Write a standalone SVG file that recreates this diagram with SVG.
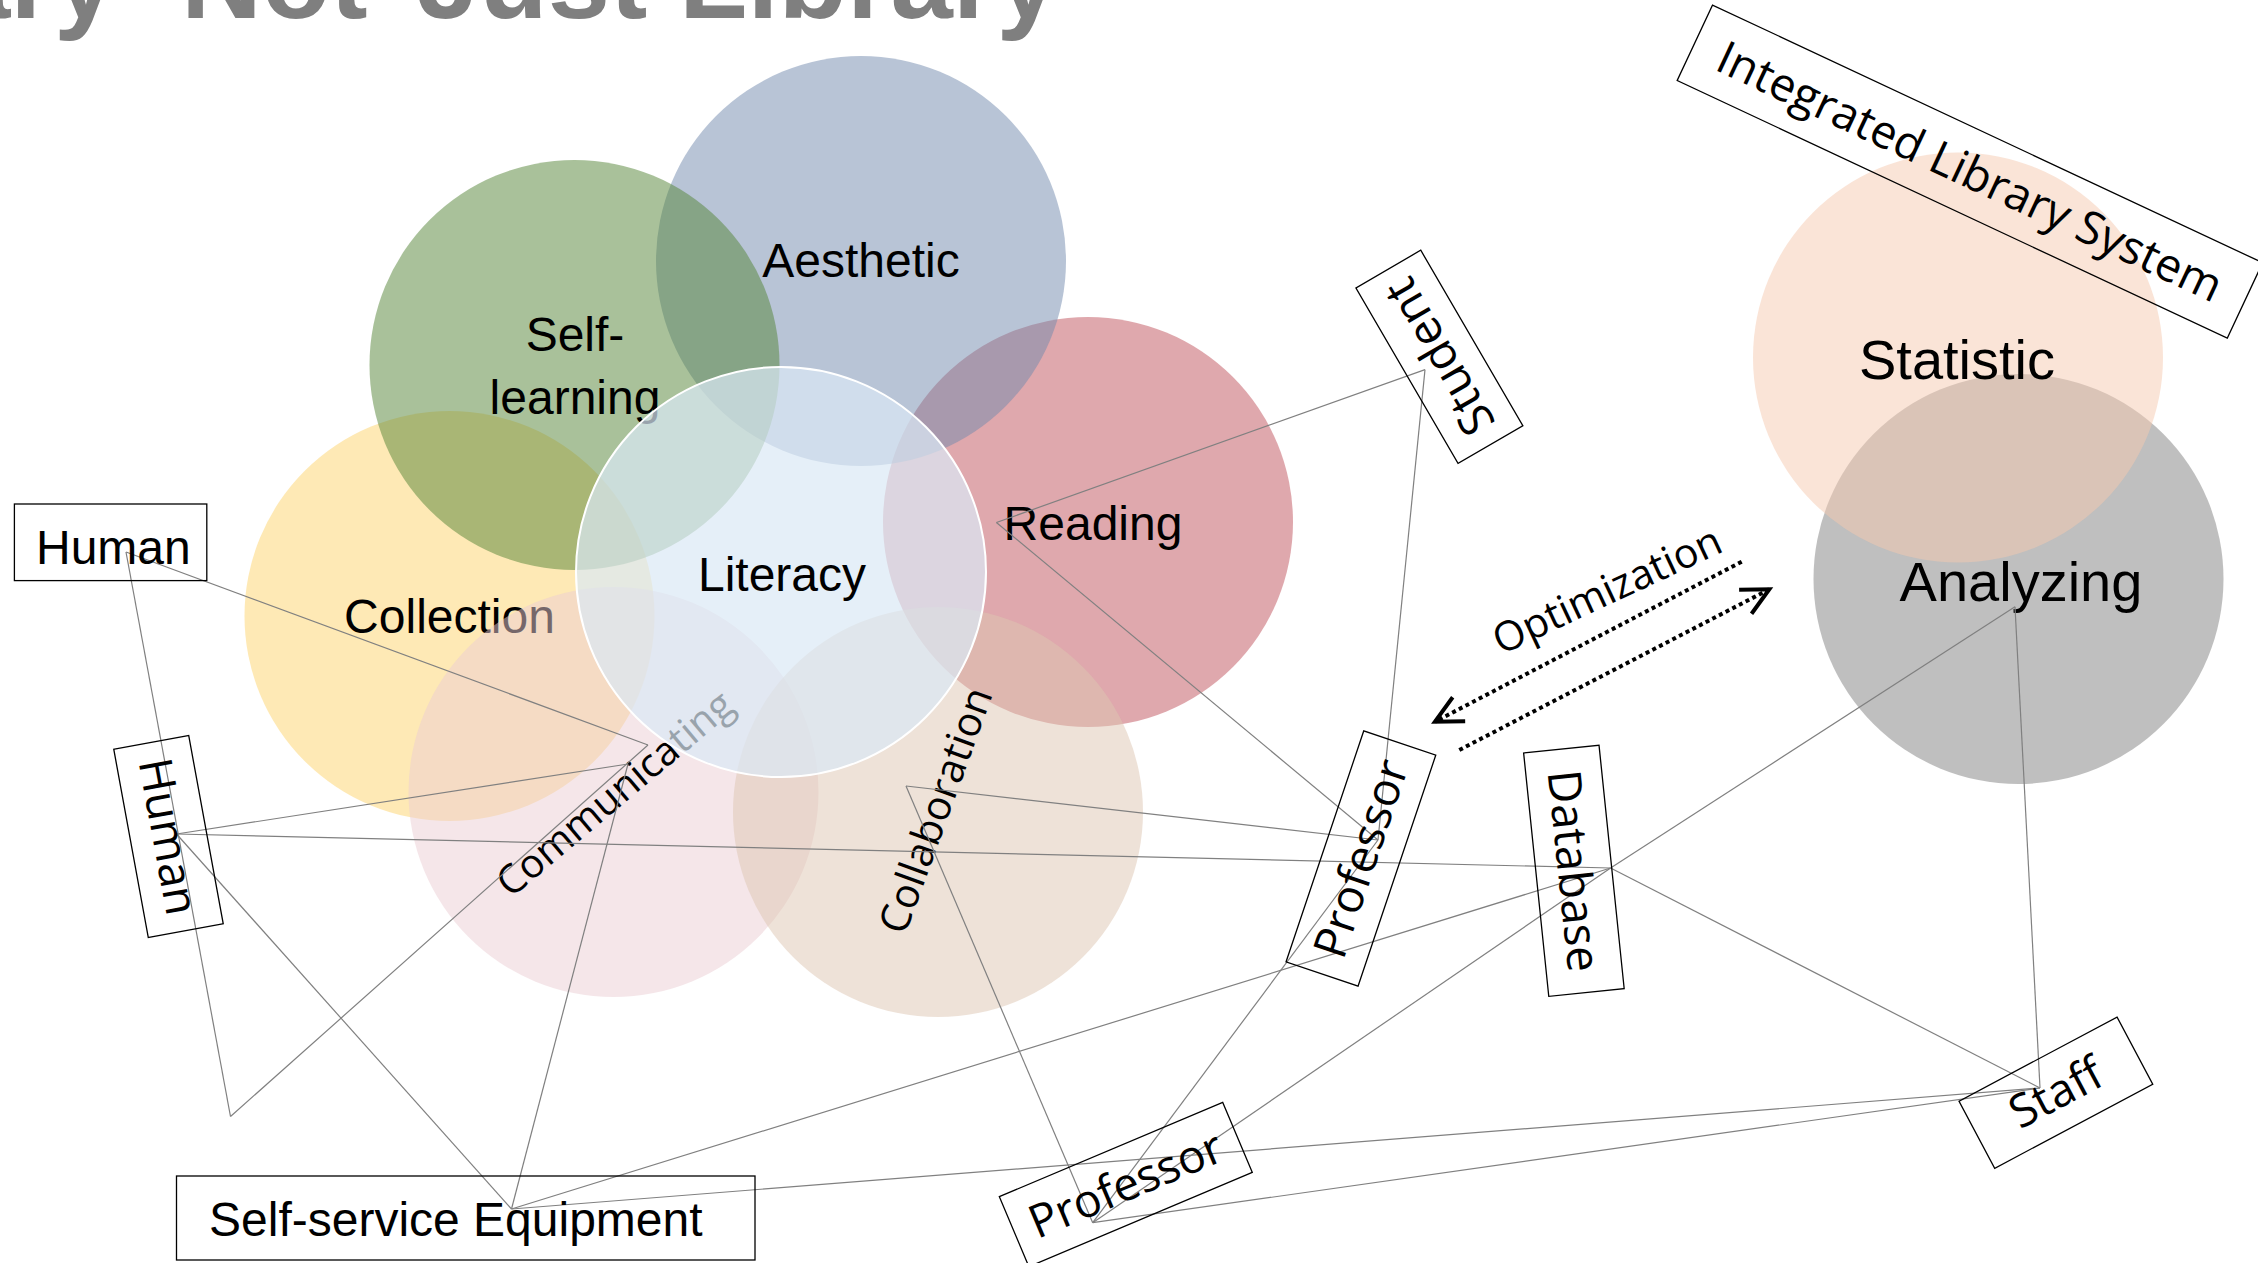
<svg xmlns="http://www.w3.org/2000/svg" width="2258" height="1263" viewBox="0 0 2258 1263">
<defs>
<style>
.lbl{font-family:"Liberation Sans",Arial,sans-serif;font-size:48px;fill:#000}
.big{font-size:56px}
.rl{font-family:"Open Sans","DejaVu Sans",sans-serif;font-size:46px;fill:#000}
.rc{font-family:"Open Sans","DejaVu Sans",sans-serif;font-size:40px;fill:#000}
.box{fill:none;stroke:#000;stroke-width:1.3}
.con line{stroke:#808080;stroke-width:1.2}
.dot{fill:none;stroke:#000;stroke-width:4;stroke-dasharray:4 3.5}
.title{font-family:"Liberation Sans",Arial,sans-serif;font-weight:bold;font-size:112px;fill:#7f7f7f}
.c{fill-opacity:0.5}
</style>
<marker id="open" markerUnits="userSpaceOnUse" markerWidth="44" markerHeight="44" viewBox="-36 -22 44 44" refX="0" refY="0" orient="auto" overflow="visible">
<path d="M-27,-13.5 L0,0 L-27,13.5" fill="none" stroke="#000" stroke-width="4"/>
</marker>
</defs>
<rect width="2258" height="1263" fill="#fff"/>
<g id="title">
<text class="title" y="18"><tspan x="-52">ary</tspan> <tspan x="181">Not</tspan> <tspan x="417">Just</tspan> <tspan x="679">Library</tspan></text>
</g>
<g id="reading">
<circle class="c" cx="1088" cy="522" r="205" fill="#BF515B"/>
<text class="lbl" x="1093" y="540" text-anchor="middle">Reading</text>
</g>
<g id="aesthetic">
<circle class="c" cx="861" cy="261" r="205" fill="#7189AD"/>
<text class="lbl" x="861" y="277" text-anchor="middle">Aesthetic</text>
</g>
<g id="collection">
<circle class="c" cx="449.5" cy="616" r="205" fill="#FDD36B"/>
<text class="lbl" x="449.5" y="633" text-anchor="middle">Collection</text>
</g>
<g id="self-learning">
<circle class="c" cx="574.5" cy="365" r="205" fill="#538335"/>
<text class="lbl" text-anchor="middle"><tspan x="575" y="351">Self-</tspan><tspan x="575" y="414">learning</tspan></text>
</g>
<g id="communicating">
<circle class="c" cx="613.5" cy="792" r="205" fill="#EBCDD3"/>
<text class="rc" transform="translate(623.5,804) rotate(-40)" text-anchor="middle">Communicating</text>
</g>
<g id="collaboration">
<circle class="c" cx="938" cy="812" r="205" fill="#DDC5B1"/>
<text class="rc" style="font-size:41px" transform="translate(949,815) rotate(-70)" text-anchor="middle">Collaboration</text>
</g>
<g id="literacy">
<circle cx="781" cy="572" r="205" fill="#DAE8F5" fill-opacity="0.7" stroke="#fff" stroke-width="2"/>
<text class="lbl" x="782" y="591" text-anchor="middle">Literacy</text>
</g>
<g id="analyzing">
<circle class="c" cx="2018.5" cy="579" r="205" fill="#7F7F7F"/>
<text class="lbl big" x="2021" y="601" text-anchor="middle">Analyzing</text>
</g>
<g id="statistic">
<circle class="c" cx="1958" cy="357.5" r="205" fill="#F5C9AF"/>
<text class="lbl big" x="1957" y="379" text-anchor="middle">Statistic</text>
</g>
<g id="connectors" class="con">
<line x1="126" y1="552" x2="648" y2="745"/>
<line x1="126" y1="552" x2="230.5" y2="1116.5"/>
<line x1="230.5" y1="1116.5" x2="648" y2="745"/>
<line x1="176.5" y1="834" x2="628" y2="764"/>
<line x1="176.5" y1="834" x2="1610.6" y2="868"/>
<line x1="176.5" y1="834" x2="511.5" y2="1209"/>
<line x1="511.5" y1="1209" x2="628" y2="764"/>
<line x1="511.5" y1="1209" x2="1610.6" y2="868"/>
<line x1="511.5" y1="1209" x2="2040" y2="1088"/>
<line x1="906" y1="786" x2="1378" y2="840"/>
<line x1="906" y1="786" x2="1092.7" y2="1222.7"/>
<line x1="996.4" y1="522.5" x2="1425" y2="369.6"/>
<line x1="996.4" y1="522.5" x2="1378" y2="840"/>
<line x1="1425" y1="369.6" x2="1378" y2="840"/>
<line x1="1378" y1="840" x2="1092.7" y2="1222.7"/>
<line x1="1092.7" y1="1222.7" x2="1610.6" y2="868"/>
<line x1="1092.7" y1="1222.7" x2="2040" y2="1088"/>
<line x1="2015" y1="606.7" x2="1610.6" y2="868"/>
<line x1="2015" y1="606.7" x2="2040" y2="1088"/>
<line x1="1610.6" y1="868" x2="2040" y2="1088"/>
</g>
<g id="human-top">
<rect class="box" x="14.4" y="504" width="192.4" height="76.6"/>
<text class="lbl" x="36" y="564">Human</text>
</g>
<g id="self-service">
<rect class="box" x="176.5" y="1176" width="578.5" height="84"/>
<text class="lbl" x="209" y="1236">Self-service Equipment</text>
</g>
<g id="human-vertical" transform="translate(168.5,836.5) rotate(79.6)">
<rect class="box" x="-95.6" y="-38.1" width="191.2" height="76.2"/>
<text class="rl" y="16" text-anchor="middle">Human</text>
</g>
<g id="student" transform="translate(1439.4,356.8) rotate(-120.2)">
<rect class="box" x="-101.5" y="-37.5" width="203" height="75"/>
<text class="rl" style="font-size:47px" y="16" text-anchor="middle">Student</text>
</g>
<g id="professor-1" transform="translate(1360.9,858.5) rotate(-71.4)">
<rect class="box" x="-121.8" y="-38" width="243.6" height="76"/>
<text class="rl" y="16" text-anchor="middle">Professor</text>
</g>
<g id="database" transform="translate(1573.9,870.8) rotate(84.1)">
<rect class="box" x="-122.35" y="-37.9" width="244.7" height="75.8"/>
<text class="rl" y="16" text-anchor="middle">Database</text>
</g>
<g id="staff" transform="translate(2055.9,1092.7) rotate(-28)">
<rect class="box" x="-89.5" y="-38" width="179" height="76"/>
<text class="rl" y="16" text-anchor="middle">Staff</text>
</g>
<g id="professor-2" transform="translate(1125.8,1184.5) rotate(-22.9)">
<rect class="box" x="-121.25" y="-38" width="242.5" height="76"/>
<text class="rl" y="16" text-anchor="middle">Professor</text>
</g>
<g id="integrated-library-system" transform="translate(1969.9,171.6) rotate(25.1)">
<rect class="box" x="-303.75" y="-41.65" width="607.5" height="83.3"/>
<text class="rl" y="16" text-anchor="middle">Integrated Library System</text>
</g>
<g id="optimization">
<text class="rc" style="font-size:41px" transform="translate(1613,603) rotate(-25)" text-anchor="middle">Optimization</text>
<line class="dot" x1="1741.7" y1="561.7" x2="1435" y2="721.7" marker-end="url(#open)"/>
<line class="dot" x1="1459.3" y1="750" x2="1769.3" y2="589.3" marker-end="url(#open)"/>
</g>
</svg>
